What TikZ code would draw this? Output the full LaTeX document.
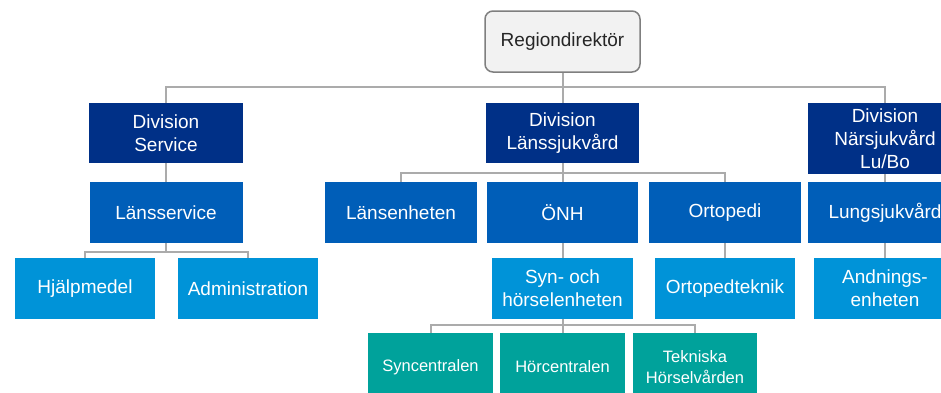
\documentclass[tikz,border=0pt]{standalone}
\usepackage{fontspec}
\setmainfont{Liberation Sans}
\definecolor{navy}{HTML}{003087}
\definecolor{midblue}{HTML}{005EB8}
\definecolor{lightblue}{HTML}{0093D8}
\definecolor{teal2}{HTML}{00A29B}
\definecolor{connc}{HTML}{ABABAB}
\definecolor{rdfill}{HTML}{F2F2F2}
\definecolor{rddraw}{HTML}{7F7F7F}
\begin{document}
\begin{tikzpicture}[x=1pt,y=-1pt,
  box/.style={inner sep=0pt, minimum height=61pt, text=white, align=center,
    font=\fontsize{19}{23}\selectfont},
  lvl1/.style={box, fill=navy, minimum height=60pt},
  lvl2/.style={box, fill=midblue},
  lvl3/.style={box, fill=lightblue},
  lvl4/.style={box, fill=teal2, minimum height=68pt, font=\fontsize{16.5}{21}\selectfont},
  conn/.style={draw=connc, line width=2pt},
  top/.style={inner sep=0pt, minimum width=155pt, minimum height=61pt,
    rounded corners=8pt, fill=rdfill, draw=rddraw, line width=1.5pt,
    text=black!85, font=\fontsize{19}{23}\selectfont}]
\useasboundingbox (0,0) rectangle (941,392);
\clip (0,0) rectangle (941,392);
\fill[white] (0,0) rectangle (941,392);
% nodes
\node[top] (rd) at (562.5,41.5) {Regiondirektör};
\node[lvl1, minimum width=154pt] (ds) at (166,133) {Division\\Service};
\node[lvl1, minimum width=153pt] (dl) at (562.5,133) {Division\\Länssjukvård};
\node[lvl1, minimum width=154pt, minimum height=71pt] (dn) at (885,138.5) {Division\\Närsjukvård\\Lu/Bo};
\node[lvl2, minimum width=153pt] (ls) at (166,212.5) {Länsservice};
\node[lvl2, minimum width=152pt] (le) at (401,212.5) {Länsenheten};
\node[lvl2, minimum width=151pt] (onh) at (562.5,212.5) {ÖNH};
\node[lvl2, minimum width=152pt] (ort) at (725,212.5) {Ortopedi};
\node[lvl2, minimum width=154pt] (lu) at (885,212.5) {Lungsjukvård};
\node[lvl3, minimum width=140pt] (hj) at (85,288.5) {Hjälpmedel};
\node[lvl3, minimum width=140pt] (adm) at (248,288.5) {Administration};
\node[lvl3, minimum width=141pt] (syn) at (562.5,288.5) {Syn- och\\hörselenheten};
\node[lvl3, minimum width=140pt] (ot) at (725,288.5) {Ortopedteknik};
\node[lvl3, minimum width=142pt] (an) at (885,288.5) {Andnings-\\enheten};
\node[lvl4, minimum width=125pt] (sc) at (430.5,367) {Syncentralen};
\node[lvl4, minimum width=125pt] (hc) at (562.5,367) {Hörcentralen};
\node[lvl4, minimum width=124pt] (th) at (695,367) {Tekniska\\Hörselvården};
% connectors
\coordinate (b0) at (562.5,87);
\draw[conn] (rd.south) -- (dl.north);
\draw[conn] (b0) -| (ds.north);
\draw[conn] (b0) -| (dn.north);
\draw[conn] (ds.south) -- (ls.north);
\coordinate (b1) at (166,252);
\draw[conn] (ls.south) -- (b1);
\draw[conn] (b1) -| (hj.north);
\draw[conn] (b1) -| (adm.north);
\coordinate (b2) at (562.5,173);
\draw[conn] (dl.south) -- (onh.north);
\draw[conn] (b2) -| (le.north);
\draw[conn] (b2) -| (ort.north);
\draw[conn] (onh.south) -- (syn.north);
\draw[conn] (ort.south) -- (ot.north);
\coordinate (b3) at (562.5,325);
\draw[conn] (syn.south) -- (hc.north);
\draw[conn] (b3) -| (sc.north);
\draw[conn] (b3) -| (th.north);
\draw[conn] (dn.south) -- (lu.north);
\draw[conn] (lu.south) -- (an.north);
\end{tikzpicture}
\end{document}
